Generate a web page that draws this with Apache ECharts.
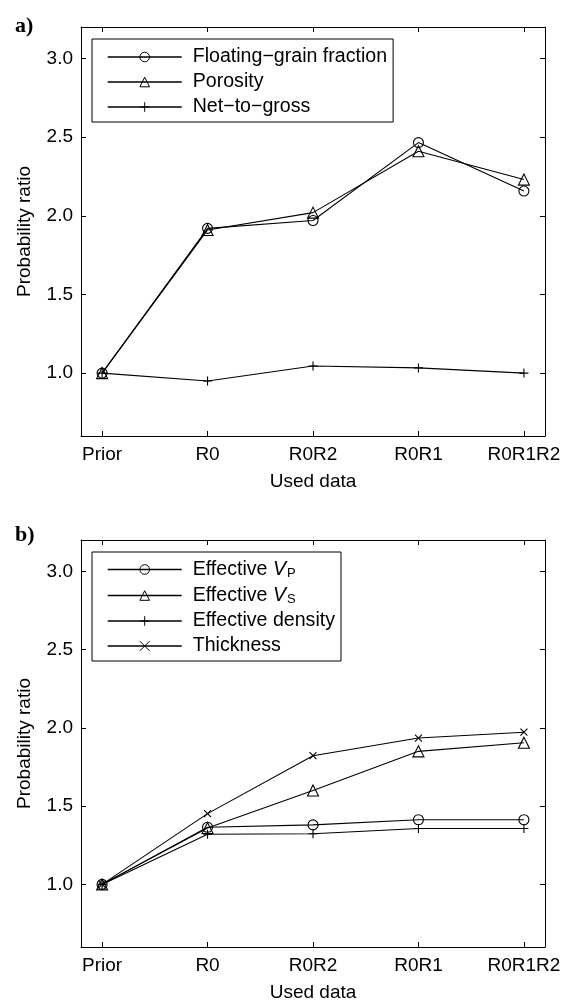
<!DOCTYPE html>
<html>
<head>
<meta charset="utf-8">
<script src="https://cdn.jsdelivr.net/npm/echarts@6/dist/echarts.min.js"></script>
<style>
html,body{margin:0;padding:0;background:#fff;}
#chart{width:564px;height:1003px;}
</style>
</head>
<body>
<div id="chart"></div>
<script>
// ---- data ----
const categories = ['Prior', 'R0', 'R0R2', 'R0R1', 'R0R1R2'];
const yTicks = [1.0, 1.5, 2.0, 2.5, 3.0];
// panel a
const floatingGrain = [1.0, 1.92, 1.97, 2.465, 2.157];
const porosity      = [1.0, 1.91, 2.02, 2.41, 2.23];
const netToGross    = [1.0, 0.95, 1.045, 1.033, 1.0];
// panel b
const effVp      = [1.0, 1.365, 1.38, 1.413, 1.413];
const effVs      = [1.0, 1.36, 1.60, 1.85, 1.905];
const effDensity = [1.0, 1.32, 1.323, 1.357, 1.357];
const thickness  = [1.0, 1.452, 1.822, 1.935, 1.972];

const xTicks = categories.map((c, i) => i + 1);
const FONT = 'Liberation Sans, Arial, Helvetica, sans-serif';

const SYM = {
  circle: {symbol: 'circle', symbolSize: 10},
  triangle: {symbol: 'triangle', symbolSize: 11},
  plus: {symbol: 'path://M5,0L5,10M0,5L10,5', symbolSize: 9},
  cross: {symbol: 'path://M0,0L10,10M0,10L10,0', symbolSize: 7}
};

function toXY(vals) { return vals.map((v, i) => [i + 1, v]); }

function mkSeries(name, vals, sym, axisIdx) {
  return {
    type: 'line', name: name, data: toXY(vals),
    xAxisIndex: axisIdx, yAxisIndex: axisIdx,
    symbol: SYM[sym].symbol, symbolSize: SYM[sym].symbolSize,
    showAllSymbol: true,
    lineStyle: {color: '#000', width: 1.1},
    itemStyle: {color: 'rgba(0,0,0,0)', borderColor: '#000', borderWidth: 1.1},
    emphasis: {disabled: true},
    silent: true
  };
}

function xAxes(gridIndex) {
  const base = {
    type: 'value', gridIndex: gridIndex, min: 0.8, max: 5.2,
    splitLine: {show: false},
    axisLine: {show: true, onZero: false, lineStyle: {color: '#000', width: 1}},
    axisTick: {show: true, inside: true, length: 5, customValues: xTicks, lineStyle: {color: '#000', width: 1}}
  };
  return [
    Object.assign({}, base, {
      position: 'bottom',
      name: 'Used data', nameLocation: 'middle', nameGap: 36,
      nameTextStyle: {fontFamily: FONT, fontSize: 19, color: '#000'},
      axisLabel: {show: true, customValues: xTicks, margin: 9, fontFamily: FONT, fontSize: 19, color: '#000',
        formatter: v => categories[Math.round(v) - 1]}
    }),
    Object.assign({}, base, {position: 'top', axisLabel: {show: false}})
  ];
}

function yAxes(gridIndex) {
  const base = {
    type: 'value', gridIndex: gridIndex, min: 0.6, max: 3.2,
    splitLine: {show: false},
    axisLine: {show: true, onZero: false, lineStyle: {color: '#000', width: 1}},
    axisTick: {show: true, inside: true, length: 5, customValues: yTicks, lineStyle: {color: '#000', width: 1}}
  };
  return [
    Object.assign({}, base, {
      position: 'left',
      name: 'Probability ratio', nameLocation: 'middle', nameGap: 47,
      nameTextStyle: {fontFamily: FONT, fontSize: 19, color: '#000'},
      axisLabel: {show: true, customValues: yTicks, margin: 8, fontFamily: FONT, fontSize: 19, color: '#000',
        formatter: v => v.toFixed(1)}
    }),
    Object.assign({}, base, {position: 'right', axisLabel: {show: false}})
  ];
}

const LFS = 19.6;
const legendText = {fontFamily: FONT, fontSize: LFS, color: '#000', lineHeight: 20, padding: [0, 0, 0, 6]};
const legendItemStyle = {color: 'rgba(0,0,0,0)', borderColor: '#000', borderWidth: 1};
const legendLineStyle = {color: '#000', width: 1.4};

const chart = echarts.init(document.getElementById('chart'), null, {renderer: 'canvas'});
chart.setOption({
  animation: false,
  backgroundColor: '#fff',
  title: [
    {text: 'a)', left: 10, top: 10, textStyle: {fontFamily: 'Liberation Serif, Times New Roman, serif', fontWeight: 'bold', fontSize: 22, color: '#000'}},
    {text: 'b)', left: 10, top: 519, textStyle: {fontFamily: 'Liberation Serif, Times New Roman, serif', fontWeight: 'bold', fontSize: 22, color: '#000'}}
  ],
  grid: [
    {left: 81, right: 19, top: 27, height: 409},
    {left: 81, right: 19, top: 540, height: 408}
  ],
  xAxis: xAxes(0).concat(xAxes(1)),
  yAxis: yAxes(0).concat(yAxes(1)),
  legend: [
    {
      orient: 'vertical', left: 92, top: 39,
      data: ['Floating\u2212grain fraction', 'Porosity', 'Net\u2212to\u2212gross'],
      itemWidth: 74, itemHeight: 12, itemGap: 5,
      padding: [8, 6, 5, 15],
      borderColor: '#000', borderWidth: 1, backgroundColor: '#fff',
      itemStyle: legendItemStyle, lineStyle: legendLineStyle,
      textStyle: legendText,
      selectedMode: false
    },
    {
      orient: 'vertical', left: 92, top: 552,
      data: ['Effective VP', 'Effective VS', 'Effective density', 'Thickness'],
      itemWidth: 74, itemHeight: 12, itemGap: 5,
      padding: [7, 6, 5, 15],
      borderColor: '#000', borderWidth: 1, backgroundColor: '#fff',
      itemStyle: legendItemStyle, lineStyle: legendLineStyle,
      selectedMode: false,
      formatter: function (name) {
        if (name === 'Effective VP') return '{n|Effective }{i|V}{s|P}';
        if (name === 'Effective VS') return '{n|Effective }{i|V}{s|S}';
        return '{n|' + name + '}';
      },
      textStyle: Object.assign({}, legendText, {
        rich: {
          n: {fontFamily: FONT, fontSize: LFS, color: '#000', lineHeight: 20},
          i: {fontFamily: FONT, fontSize: LFS, fontStyle: 'italic', color: '#000', lineHeight: 20},
          s: {fontFamily: FONT, fontSize: 13, color: '#000', lineHeight: 12, padding: [8, 0, 0, 1]}
        }
      })
    }
  ],
  series: [
    mkSeries('Floating\u2212grain fraction', floatingGrain, 'circle', 0),
    mkSeries('Porosity', porosity, 'triangle', 0),
    mkSeries('Net\u2212to\u2212gross', netToGross, 'plus', 0),
    mkSeries('Effective VP', effVp, 'circle', 2),
    mkSeries('Effective VS', effVs, 'triangle', 2),
    mkSeries('Effective density', effDensity, 'plus', 2),
    mkSeries('Thickness', thickness, 'cross', 2)
  ]
});
</script>
</body>
</html>
